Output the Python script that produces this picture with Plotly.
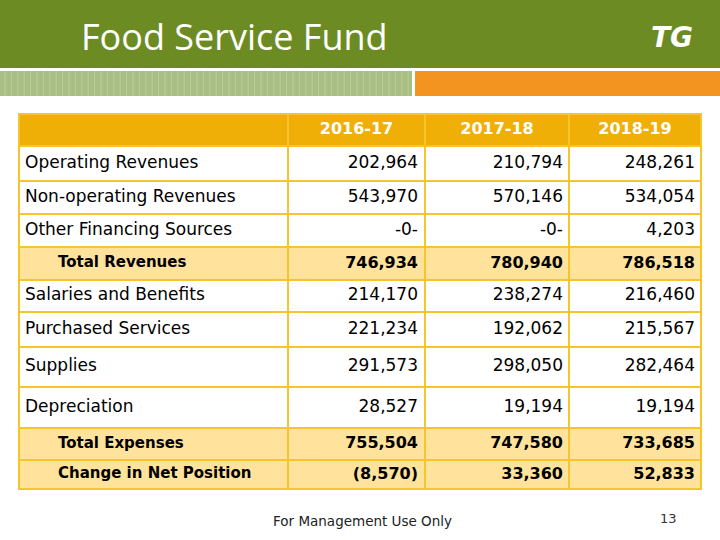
import plotly.graph_objects as go

# ---------------- data ----------------
title = "Food Service Fund"
years = ["2016-17", "2017-18", "2018-19"]
row_labels = [
    "Operating Revenues", "Non-operating Revenues", "Other Financing Sources",
    "Total Revenues", "Salaries and Benefits", "Purchased Services",
    "Supplies", "Depreciation", "Total Expenses", "Change in Net Position",
]
total_rows = ["Total Revenues", "Total Expenses", "Change in Net Position"]
fy2016_17 = ["202,964", "543,970", "-0-", "746,934", "214,170", "221,234",
             "291,573", "28,527", "755,504", "(8,570)"]
fy2017_18 = ["210,794", "570,146", "-0-", "780,940", "238,274", "192,062",
             "298,050", "19,194", "747,580", "33,360"]
fy2018_19 = ["248,261", "534,054", "4,203", "786,518", "216,460", "215,567",
             "282,464", "19,194", "733,685", "52,833"]
footer = "For Management Use Only"
page_no = "13"

# ---------------- layout constants ----------------
W, H = 720, 540
col_edges = [19, 288, 425, 569, 701]
row_edges = [114, 146, 181, 214, 247, 280, 312, 347, 387, 428, 460, 489]

GREEN = "#6C8C23"
STRIPE = "#A9BE83"
STRIPE_LINE = "#BCCD9C"
ORANGE = "#F39320"
HEADER = "#EFAF07"
BORDER = "#F6C52C"
TOTAL_FILL = "#FFE29B"
FONT = "DejaVu Sans"

fig = go.Figure()

# ---------------- table cells (heatmap bricks) ----------------
z = [[2, 2, 2, 2]]
for lab in row_labels:
    v = 1 if lab in total_rows else 0
    z.append([v, v, v, v])

fig.add_trace(go.Heatmap(
    z=z, x=col_edges, y=row_edges,
    zmin=0, zmax=2,
    colorscale=[[0, "#FFFFFF"], [0.33, "#FFFFFF"], [0.33, TOTAL_FILL],
                [0.66, TOTAL_FILL], [0.66, HEADER], [1, HEADER]],
    showscale=False, xgap=2, ygap=2, hoverinfo="skip",
))

centers_y = [(row_edges[i] + row_edges[i + 1]) / 2 for i in range(len(row_edges) - 1)]
hdr_y = centers_y[0]
body_y = centers_y[1:]

# header texts
hdr_x = [(col_edges[i] + col_edges[i + 1]) / 2 for i in range(1, 4)]
fig.add_trace(go.Scatter(
    x=hdr_x, y=[hdr_y] * 3, mode="text", text=[f"<b>{y}</b>" for y in years],
    textposition="middle center",
    textfont=dict(family=FONT, size=16, color="#FFFFFF"), hoverinfo="skip",
))

# row labels
norm_idx = [i for i, l in enumerate(row_labels) if l not in total_rows]
bold_idx = [i for i, l in enumerate(row_labels) if l in total_rows]
fig.add_trace(go.Scatter(
    x=[25] * len(norm_idx), y=[body_y[i] for i in norm_idx], mode="text",
    text=[row_labels[i] for i in norm_idx], textposition="middle right",
    textfont=dict(family=FONT, size=17, color="#000000"), hoverinfo="skip",
))
fig.add_trace(go.Scatter(
    x=[58] * len(bold_idx), y=[body_y[i] for i in bold_idx], mode="text",
    text=[f"<b>{row_labels[i]}</b>" for i in bold_idx], textposition="middle right",
    textfont=dict(family=FONT, size=15, color="#000000"), hoverinfo="skip",
))

# numbers
num_right = [col_edges[2] - 7, col_edges[3] - 6, col_edges[4] - 6]
for cx, vals in zip(num_right, [fy2016_17, fy2017_18, fy2018_19]):
    fig.add_trace(go.Scatter(
        x=[cx] * len(norm_idx), y=[body_y[i] for i in norm_idx], mode="text",
        text=[vals[i] for i in norm_idx], textposition="middle left",
        textfont=dict(family=FONT, size=17, color="#000000"), hoverinfo="skip",
    ))
    fig.add_trace(go.Scatter(
        x=[cx] * len(bold_idx), y=[body_y[i] for i in bold_idx], mode="text",
        text=[f"<b>{vals[i]}</b>" for i in bold_idx], textposition="middle left",
        textfont=dict(family=FONT, size=16, color="#000000"), hoverinfo="skip",
    ))

# ---------------- decorations ----------------
shapes = [
    dict(type="rect", xref="x", yref="y", x0=0, x1=W, y0=0, y1=68,
         fillcolor=GREEN, line=dict(width=0), layer="below"),
    dict(type="rect", xref="x", yref="y", x0=0, x1=412, y0=71, y1=96,
         fillcolor=STRIPE, line=dict(width=0), layer="below"),
    dict(type="rect", xref="x", yref="y", x0=415, x1=W, y0=71, y1=96,
         fillcolor=ORANGE, line=dict(width=0), layer="below"),
    dict(type="rect", xref="x", yref="y", x0=col_edges[0] - 1, x1=col_edges[-1] + 1,
         y0=row_edges[0] - 1, y1=row_edges[-1] + 1,
         fillcolor=BORDER, line=dict(width=0), layer="below"),
]
sx = 5
while sx < 410:
    shapes.append(dict(type="line", xref="x", yref="y", x0=sx, x1=sx, y0=71, y1=96,
                       line=dict(color=STRIPE_LINE, width=1), layer="below"))
    sx += 6.4

annotations = [
    dict(x=79, y=36, xref="x", yref="y", text=title, showarrow=False,
         xanchor="left", yanchor="middle",
         font=dict(family="Open Sans", size=36, color="#FFFFFF")),
    dict(x=672, y=37, xref="x", yref="y", text="<b><i>TG</i></b>", showarrow=False,
         xanchor="center", yanchor="middle",
         font=dict(family="DejaVu Sans", size=28, color="#FFFFFF")),
    dict(x=362, y=521, xref="x", yref="y", text=footer, showarrow=False,
         xanchor="center", yanchor="middle",
         font=dict(family=FONT, size=13.5, color="#222222")),
    dict(x=668, y=518, xref="x", yref="y", text=page_no, showarrow=False,
         xanchor="center", yanchor="middle",
         font=dict(family=FONT, size=13, color="#333333")),
]

fig.update_layout(
    width=W, height=H, margin=dict(l=0, r=0, t=0, b=0),
    paper_bgcolor="#FFFFFF", plot_bgcolor="#FFFFFF",
    showlegend=False, shapes=shapes, annotations=annotations,
    xaxis=dict(range=[0, W], visible=False, fixedrange=True),
    yaxis=dict(range=[H, 0], visible=False, fixedrange=True),
)

fig.write_html(
    "out.html",
    config={"displayModeBar": False},
    post_script="document.body.style.margin='0px';document.body.style.overflow='hidden';",
)
